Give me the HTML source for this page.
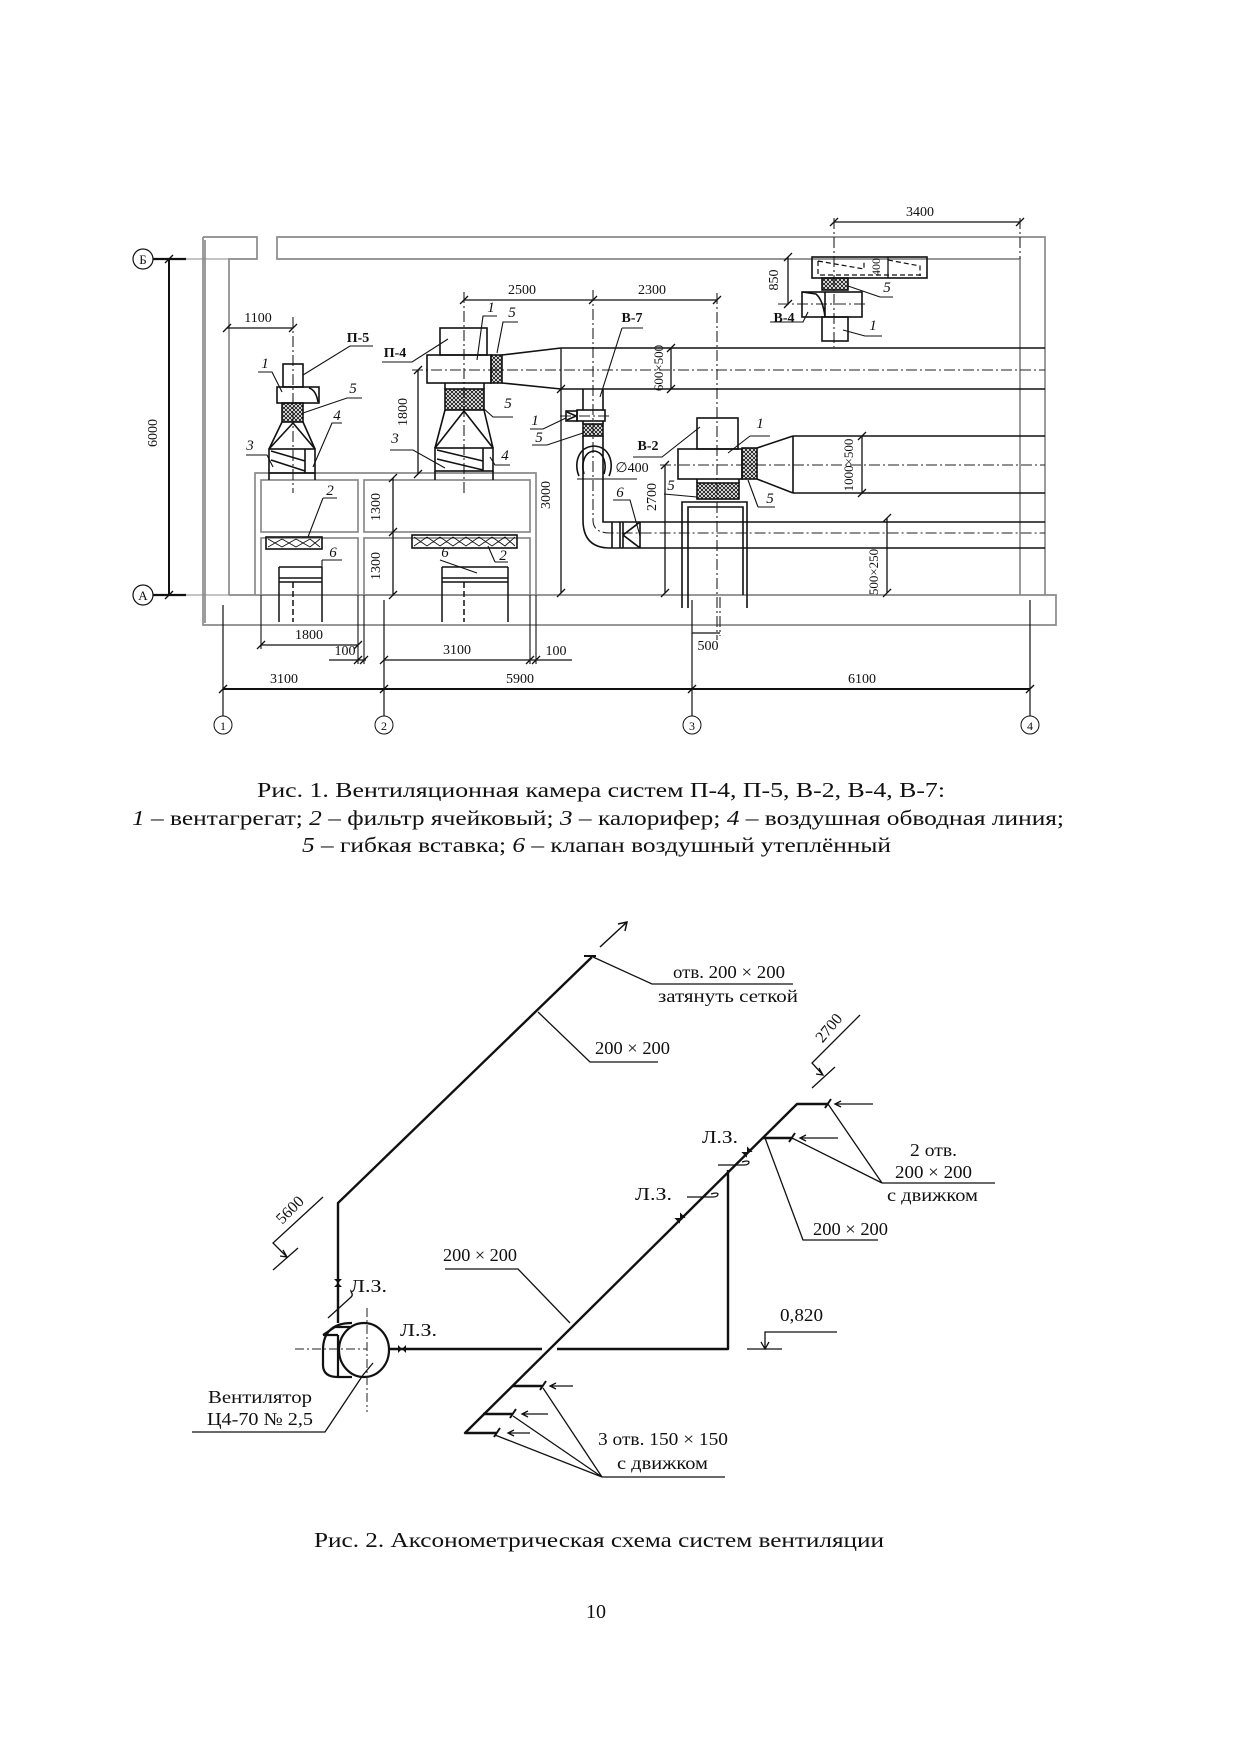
<!DOCTYPE html>
<html><head><meta charset="utf-8">
<style>
html,body{margin:0;padding:0;background:#fff;}
svg{display:block;}
</style></head><body>
<svg width="1241" height="1754" viewBox="0 0 1241 1754" xmlns="http://www.w3.org/2000/svg" font-family="'Liberation Serif', serif">
<defs>
<pattern id="xh" width="4" height="4" patternUnits="userSpaceOnUse"><path d="M0,0L4,4M4,0L0,4" stroke="#111" stroke-width="0.9"/></pattern>
</defs>
<rect width="1241" height="1754" fill="#fff"/>

<!-- ================= FIGURE 1 ================= -->
<g stroke="#8a8a8a" stroke-width="1.7" fill="none">
 <path d="M203,237H257V259H229V595"/>
 <path d="M205,240V623"/>
 <path d="M203,237V625H1056V595H1045V237H277V259H1020V595"/>
 <path d="M229,595H1045"/>
 <path d="M255,595V473H536V595"/>
 <rect x="261" y="480" width="97" height="52"/>
 <rect x="261" y="538" width="97" height="57"/>
 <rect x="364" y="480" width="166" height="52"/>
 <rect x="364" y="538" width="166" height="57"/>
</g>

<g stroke="#111" fill="none">
 <circle cx="143" cy="259" r="10" stroke-width="1.2"/>
 <circle cx="143" cy="595" r="10" stroke-width="1.2"/>
 <path d="M153,259H186M153,595H186" stroke-width="2.2"/>
 <path d="M186,259H229M186,595H229" stroke="#888" stroke-width="1"/>
 <path d="M169,259V595" stroke-width="2"/>
 <path d="M165,263L173,255M165,599L173,591" stroke-width="1.4"/>
</g>
<g font-size="13" text-anchor="middle" fill="#111">
 <text x="143" y="264">Б</text>
 <text x="143" y="600">А</text>
</g>
<text x="157" y="433" font-size="14" text-anchor="middle" transform="rotate(-90 157 433)" fill="#111">6000</text>

<g stroke="#222" stroke-width="1.1" stroke-dasharray="11 3 2 3" fill="none">
 <path d="M293,317V493"/>
 <path d="M464,292V493"/>
 <path d="M593,290V480"/>
 <path d="M717,293V640"/>
 <path d="M834,218V347"/>
 <path d="M412,370H1045"/>
 <path d="M660,465H1045"/>
 <path d="M593,480V520Q593,533 610,533H1045"/>
 <path d="M560,416H612"/>
 <path d="M778,304H865"/>
 <path d="M720,597V636"/>
 <path d="M1020,218V259"/>
</g>

<g stroke="#111" stroke-width="1.3" fill="none">
 <path d="M227,328H293"/>
 <path d="M223,332L231,324M289,332L297,324"/>
 <path d="M464,300H717"/>
 <path d="M460,304L468,296M589,304L597,296M713,304L721,296"/>
 <path d="M834,222H1020"/>
 <path d="M830,226L838,218M1016,226L1024,218"/>
 <path d="M788,257V304"/>
 <path d="M784,261L792,253M784,308L792,300"/>
 <path d="M418,370V474"/>
 <path d="M414,374L422,366M414,478L422,470"/>
 <path d="M393,478V595"/>
 <path d="M389,482L397,474M389,536L397,528M389,599L397,591"/>
 <path d="M561,348V593"/>
 <path d="M557,597L565,589M557,393L565,385"/>
 <path d="M665,465V593"/>
 <path d="M661,469L669,461M661,597L669,589"/>
 <path d="M671,348V389"/>
 <path d="M667,352L675,344M667,393L675,385"/>
 <path d="M862,436V493"/>
 <path d="M858,440L866,432M858,497L866,489"/>
 <path d="M887,518V593"/>
 <path d="M883,522L891,514M883,597L891,589"/>
 <path d="M888,257V278"/>
</g>
<g font-size="14" fill="#111" text-anchor="middle">
 <text x="258" y="322">1100</text>
 <text x="522" y="294">2500</text>
 <text x="652" y="294">2300</text>
 <text x="920" y="216">3400</text>
 <text x="407" y="412" transform="rotate(-90 407 412)">1800</text>
 <text x="380" y="507" transform="rotate(-90 380 507)">1300</text>
 <text x="380" y="566" transform="rotate(-90 380 566)">1300</text>
 <text x="550" y="495" transform="rotate(-90 550 495)">3000</text>
 <text x="656" y="497" transform="rotate(-90 656 497)">2700</text>
 <text x="778" y="280" transform="rotate(-90 778 280)">850</text>
 <text x="880" y="267" font-size="12" transform="rotate(-90 880 267)">400</text>
 <text x="663" y="368" font-size="13" transform="rotate(-90 663 368)">600×500</text>
 <text x="853" y="465" font-size="13" transform="rotate(-90 853 465)">1000×500</text>
 <text x="878" y="572" font-size="13" transform="rotate(-90 878 572)">500×250</text>
</g>

<!-- P-5 -->
<g stroke="#111" stroke-width="1.6" fill="none">
 <rect x="283" y="364" width="20" height="23"/>
 <rect x="277" y="387" width="42" height="16"/>
 <path d="M309,388Q316,390 318,402"/>
 <rect x="282" y="403" width="21" height="19" fill="url(#xh)"/>
 <path d="M282,422L269,449M303,422L315,449M293,423L269,449M293,423L315,449"/>
 <rect x="269" y="449" width="46" height="24"/>
 <path d="M271,451L305,461M271,460L305,471M305,449V473"/>
 <path d="M269,473V480M315,473V480"/>
</g>
<!-- P-4 -->
<g stroke="#111" stroke-width="1.6" fill="none">
 <rect x="440" y="328" width="47" height="27"/>
 <rect x="427" y="355" width="64" height="28"/>
 <rect x="491" y="355" width="11" height="28" fill="url(#xh)"/>
 <path d="M502,355L561,348M502,383L561,389"/>
 <path d="M561,348H1045M561,389H1045"/>
 <path d="M445,383V389M484,383V389"/>
 <rect x="445" y="389" width="39" height="21" fill="url(#xh)"/>
 <path d="M445,410L435,448M484,410L493,448M464,411L435,448M464,411L493,448"/>
 <rect x="435" y="448" width="58" height="23"/>
 <path d="M437,450L483,461M437,459L483,470M483,448V471"/>
 <path d="M435,471V480M493,471V480"/>
</g>
<g stroke="#111" fill="none">
 <rect x="266" y="537" width="56" height="12" stroke-width="1.6"/>
 <path d="M268,539L282,547L296,539L310,547L320,539M268,547L282,539L296,547L310,539L320,547" stroke-width="0.9"/>
 <rect x="412" y="535" width="105" height="13" stroke-width="1.6"/>
 <path d="M414,537L427,546L440,537L453,546L466,537L479,546L492,537L505,546L515,537M414,546L427,537L440,546L453,537L466,546L479,537L492,546L505,537L515,546" stroke-width="0.9"/>
</g>
<g stroke="#111" stroke-width="1.5" fill="none">
 <path d="M279,567V622M322,567V622M279,567H322M279,578H322M279,582H322"/>
 <path d="M442,567V622M508,567V622M442,567H508M442,578H508M442,582H508"/>
 <path d="M293,582V622M464,582V622" stroke-dasharray="6 3"/>
</g>
<!-- B-7 -->
<g stroke="#111" stroke-width="1.6" fill="none">
 <path d="M583,389V410M603,389V410"/>
 <rect x="577" y="410" width="28" height="11"/>
 <rect x="566" y="411" width="11" height="10"/>
 <path d="M567,412L576,416L567,420"/>
 <rect x="583" y="424" width="20" height="12" fill="url(#xh)"/>
 <path d="M583,421V424M603,421V424M583,436V447M603,436V447"/>
 <path d="M579,476C574,465 577,447 594,446C611,447 614,465 609,476"/>
 <path d="M584,474C581,464 584,452 594,451C604,452 607,464 604,474"/>
 <path d="M583,447V520Q583,548 610,548H1045"/>
 <path d="M603,447V522H1045"/>
 <path d="M612,522V548M620,522V548M623,522V548M640,522V548M623,535L640,522M623,535L640,548"/>
 <path d="M577,479H637" stroke-width="1"/>
</g>
<!-- B-2 -->
<g stroke="#111" stroke-width="1.6" fill="none">
 <rect x="697" y="418" width="41" height="31"/>
 <rect x="678" y="449" width="64" height="30"/>
 <rect x="742" y="448" width="15" height="31" fill="url(#xh)"/>
 <path d="M757,448L793,436M757,479L793,493M793,436V493M793,436H1045M793,493H1045"/>
 <path d="M697,479V483M739,479V483"/>
 <rect x="697" y="483" width="42" height="16" fill="url(#xh)"/>
 <path d="M682,595V502H747V595M688,595V507H743V595"/>
 <path d="M682,595V608M688,595V608M747,595V608"/>
</g>
<!-- B-4 -->
<g stroke="#111" stroke-width="1.6" fill="none">
 <rect x="812" y="257" width="115" height="21"/>
 <path d="M818,261L864,269V261M888,260L920,266V276M818,261V275H922" stroke-dasharray="5 3" stroke-width="1.2"/>
 <rect x="822" y="278" width="26" height="12" fill="url(#xh)"/>
 <rect x="802" y="292" width="60" height="25"/>
 <path d="M825,292V317M802,292L816,294Q823,300 825,317"/>
 <rect x="822" y="317" width="26" height="24"/>
</g>

<g stroke="#111" stroke-width="1.1" fill="none">
 <path d="M373,346H350L303,375"/>
 <path d="M258,372H272L282,392"/>
 <path d="M362,398H347L303,413"/>
 <path d="M342,423H332L313,467"/>
 <path d="M246,455H267L273,467"/>
 <path d="M323,498H337M323,498L308,537"/>
 <path d="M322,560H342M322,560L322,567"/>
 <path d="M382,362H412L448,339"/>
 <path d="M497,316H483L477,360"/>
 <path d="M518,322H503L497,353"/>
 <path d="M513,417H493L483,408"/>
 <path d="M390,450H413L445,468"/>
 <path d="M510,465H495L490,457"/>
 <path d="M495,562H508M495,562L488,546"/>
 <path d="M440,560L477,573"/>
 <path d="M622,328H643M622,328L600,397"/>
 <path d="M530,429H543L566,418"/>
 <path d="M532,445H547L583,433"/>
 <path d="M613,500H630L640,536"/>
 <path d="M633,457H662L700,427"/>
 <path d="M750,436H770M750,436L728,453"/>
 <path d="M664,494L697,497"/>
 <path d="M758,507H775M758,507L748,480"/>
 <path d="M770,322H803L808,312"/>
 <path d="M865,336H882M865,336L843,330"/>
 <path d="M880,297H893M880,297L848,286"/>
</g>
<g font-size="15" font-style="italic" fill="#111" text-anchor="middle">
 <text x="265" y="368">1</text>
 <text x="353" y="393">5</text>
 <text x="337" y="420">4</text>
 <text x="250" y="450">3</text>
 <text x="330" y="495">2</text>
 <text x="333" y="557">6</text>
 <text x="491" y="312">1</text>
 <text x="512" y="317">5</text>
 <text x="508" y="408">5</text>
 <text x="395" y="443">3</text>
 <text x="505" y="460">4</text>
 <text x="503" y="560">2</text>
 <text x="445" y="557">6</text>
 <text x="535" y="425">1</text>
 <text x="539" y="442">5</text>
 <text x="620" y="497">6</text>
 <text x="760" y="428">1</text>
 <text x="671" y="490">5</text>
 <text x="770" y="503">5</text>
 <text x="887" y="292">5</text>
 <text x="873" y="330">1</text>
</g>
<g font-size="14" font-weight="bold" fill="#111" text-anchor="middle">
 <text x="358" y="342">П-5</text>
 <text x="395" y="357">П-4</text>
 <text x="632" y="322">В-7</text>
 <text x="648" y="450">В-2</text>
 <text x="784" y="322">В-4</text>
</g>
<text x="632" y="472" font-size="14" text-anchor="middle" fill="#111">∅400</text>

<g stroke="#111" fill="none">
 <path d="M261,595V649M358,595V664M364,595V664M530,595V664M536,595V664" stroke-width="1.1"/>
 <path d="M223,605V716M384,600V716M692,600V716M1030,600V716" stroke-width="1.2"/>
 <path d="M261,645H358" stroke-width="1.3"/>
 <path d="M257,649L265,641M354,649L362,641" stroke-width="1.3"/>
 <path d="M329,660H366M384,660H572" stroke-width="1.3"/>
 <path d="M354,664L362,656M360,664L368,656M380,664L388,656M526,664L534,656M532,664L540,656" stroke-width="1.3"/>
 <path d="M692,633H720" stroke-width="1.3"/>
 <path d="M223,689H1030" stroke-width="2"/>
 <path d="M219,693L227,685M380,693L388,685M688,693L696,685M1026,693L1034,685" stroke-width="1.4"/>
 <circle cx="223" cy="725" r="9" stroke-width="1"/>
 <circle cx="384" cy="725" r="9" stroke-width="1"/>
 <circle cx="692" cy="725" r="9" stroke-width="1"/>
 <circle cx="1030" cy="725" r="9" stroke-width="1"/>
</g>
<g font-size="14" fill="#111" text-anchor="middle">
 <text x="309" y="639">1800</text>
 <text x="345" y="655">100</text>
 <text x="457" y="654">3100</text>
 <text x="556" y="655">100</text>
 <text x="708" y="650">500</text>
 <text x="284" y="683">3100</text>
 <text x="520" y="683">5900</text>
 <text x="862" y="683">6100</text>
 <text x="223" y="730" font-size="12">1</text>
 <text x="384" y="730" font-size="12">2</text>
 <text x="692" y="730" font-size="12">3</text>
 <text x="1030" y="730" font-size="12">4</text>
</g>

<g font-size="21" fill="#111">
 <text x="257" y="797" textLength="688" lengthAdjust="spacingAndGlyphs">Рис. 1.  Вентиляционная камера систем П-4, П-5, В-2, В-4, В-7:</text>
 <text x="132" y="825" textLength="932" lengthAdjust="spacingAndGlyphs"><tspan font-style="italic">1</tspan> – вентагрегат; <tspan font-style="italic">2</tspan> – фильтр ячейковый; <tspan font-style="italic">3</tspan> – калорифер; <tspan font-style="italic">4</tspan> – воздушная обводная линия;</text>
 <text x="302" y="852" textLength="589" lengthAdjust="spacingAndGlyphs"><tspan font-style="italic">5</tspan> – гибкая вставка; <tspan font-style="italic">6</tspan> – клапан воздушный утеплённый</text>
</g>

<!-- ================= FIGURE 2 ================= -->
<g stroke="#111" stroke-width="2.4" fill="none" stroke-linejoin="round">
 <path d="M338,1323V1203L592,957"/>
 <path d="M584,956H596" stroke-width="2"/>
 <path d="M389,1349H542M557,1349H728V1170"/>
 <path d="M497,1433H465L797,1104H828"/>
 <path d="M483,1414H513M512,1386H543M763,1138H793"/>
</g>
<g stroke="#111" stroke-width="2.2" fill="none">
 <ellipse cx="364" cy="1350" rx="25" ry="27"/>
 <path d="M352,1323C330,1323 323,1335 323,1350V1365Q323,1377 338,1377L352,1377"/>
 <path d="M323,1335L335,1327H350M338,1335V1377M323,1335H338"/>
</g>
<g stroke="#222" stroke-width="1" stroke-dasharray="9 3 2 3" fill="none">
 <path d="M295,1349H367"/>
 <path d="M367,1308V1412"/>
</g>
<g stroke="#111" stroke-width="1.5" fill="none">
 <path d="M600,947L627,922M618,924L627,922L625,931"/>
</g>
<g fill="#111">
 <path d="M334,1279H342L334,1287H342Z"/>
 <path d="M398,1345V1353L406,1345V1353Z"/>
 <path d="M743,1148H751L743,1156H751Z" transform="rotate(45 747 1152)"/>
 <path d="M676,1214H684L676,1222H684Z" transform="rotate(45 680 1218)"/>
</g>
<g stroke="#111" stroke-width="1.3" fill="none">
 <path d="M328,1318L350,1298Q354,1295 351,1292"/>
 <path d="M718,1165H744Q749,1165 749,1162Q748,1160 742,1162"/>
 <path d="M687,1197H713Q718,1197 718,1194Q717,1192 711,1194"/>
 <path d="M494,1437L500,1428M510,1418L516,1409M540,1390L546,1381M789,1142L795,1133M825,1108L831,1099" stroke-width="2"/>
 <path d="M530,1433H508M514,1430L508,1433L514,1436"/>
 <path d="M548,1414H522M528,1411L522,1414L528,1417"/>
 <path d="M573,1386H550M556,1383L550,1386L556,1389"/>
 <path d="M838,1138H800M806,1135L800,1138L806,1141"/>
 <path d="M873,1104H835M841,1101L835,1104L841,1107"/>
</g>
<g stroke="#111" stroke-width="1.3" fill="none">
 <path d="M593,957L652,984H793"/>
 <path d="M538,1012L590,1062H658"/>
 <path d="M570,1323L518,1269H445"/>
 <path d="M373,1363L363,1375L325,1432H192"/>
 <path d="M543,1388L602,1477M513,1416L602,1477M495,1435L602,1477M602,1477H725"/>
 <path d="M828,1104L882,1183M792,1138L882,1183M882,1183H995"/>
 <path d="M765,1138L803,1240H878"/>
 <path d="M323,1197L273,1243L287,1257M283,1250L287,1257L280,1256M273,1270L298,1248"/>
 <path d="M860,1015L812,1063L823,1075M819,1068L823,1075L816,1074M812,1088L835,1067"/>
 <path d="M747,1349H782M765,1349V1332H837M761,1342L765,1349L769,1342"/>
</g>
<g font-size="18" fill="#111">
 <text x="673" y="978" textLength="112" lengthAdjust="spacingAndGlyphs">отв. 200 × 200</text>
 <text x="658" y="1002" textLength="140" lengthAdjust="spacingAndGlyphs">затянуть сеткой</text>
 <text x="595" y="1054" textLength="75" lengthAdjust="spacingAndGlyphs">200 × 200</text>
 <text x="910" y="1156" textLength="47" lengthAdjust="spacingAndGlyphs">2 отв.</text>
 <text x="895" y="1178" textLength="77" lengthAdjust="spacingAndGlyphs">200 × 200</text>
 <text x="887" y="1201" textLength="91" lengthAdjust="spacingAndGlyphs">с движком</text>
 <text x="813" y="1235" textLength="75" lengthAdjust="spacingAndGlyphs">200 × 200</text>
 <text x="702" y="1143" textLength="36" lengthAdjust="spacingAndGlyphs">Л.З.</text>
 <text x="635" y="1200" textLength="37" lengthAdjust="spacingAndGlyphs">Л.З.</text>
 <text x="350" y="1292" textLength="37" lengthAdjust="spacingAndGlyphs">Л.З.</text>
 <text x="400" y="1336" textLength="37" lengthAdjust="spacingAndGlyphs">Л.З.</text>
 <text x="780" y="1321" textLength="43" lengthAdjust="spacingAndGlyphs">0,820</text>
 <text x="443" y="1261" textLength="74" lengthAdjust="spacingAndGlyphs">200 × 200</text>
 <text x="208" y="1403" textLength="104" lengthAdjust="spacingAndGlyphs">Вентилятор</text>
 <text x="207" y="1425" textLength="106" lengthAdjust="spacingAndGlyphs">Ц4-70 № 2,5</text>
 <text x="598" y="1445" textLength="130" lengthAdjust="spacingAndGlyphs">3 отв. 150 × 150</text>
 <text x="617" y="1469" textLength="91" lengthAdjust="spacingAndGlyphs">с движком</text>
 <text x="290" y="1215" font-size="16" text-anchor="middle" transform="rotate(-45 290 1210)">5600</text>
 <text x="829" y="1033" font-size="16" text-anchor="middle" transform="rotate(-50 829 1028)">2700</text>
</g>

<text x="314" y="1547" font-size="21" fill="#111" textLength="570" lengthAdjust="spacingAndGlyphs">Рис. 2. Аксонометрическая схема систем вентиляции</text>
<text x="596" y="1618" font-size="20" fill="#111" text-anchor="middle">10</text>
</svg>
</body></html>
